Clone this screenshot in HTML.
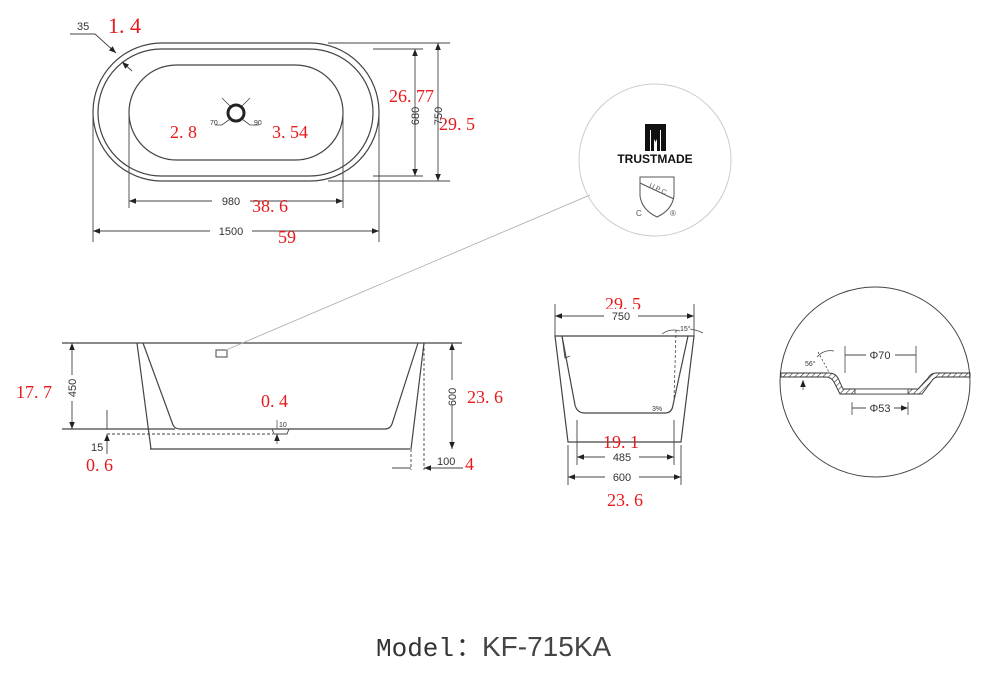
<!DOCTYPE html>
<html><head><meta charset="utf-8"><style>
html,body{margin:0;padding:0;background:#fff;}
svg{display:block;}
.d{font-family:"Liberation Sans",Arial,sans-serif;font-size:11px;fill:#333;}
.s{font-family:"Liberation Sans",Arial,sans-serif;font-size:7px;fill:#333;}
.r{font-family:"Liberation Serif","Noto Serif CJK SC",serif;font-size:18px;fill:#e8191c;white-space:pre;}
</style></head><body>
<svg width="990" height="678" viewBox="0 0 990 678" xmlns="http://www.w3.org/2000/svg">
<defs>
<marker id="a" viewBox="0 0 10 10" refX="10" refY="5" markerWidth="10" markerHeight="7" markerUnits="userSpaceOnUse" orient="auto-start-reverse"><path d="M0,1 L10,5 L0,9z" fill="#222"/></marker>
<pattern id="h" width="4" height="4" patternUnits="userSpaceOnUse" patternTransform="rotate(45)"><line x1="0" y1="0" x2="0" y2="4" stroke="#333" stroke-width="1.2"/></pattern>
</defs>
<g fill="none" stroke="#444" stroke-width="1.2">
<!-- TOP VIEW -->
<rect x="93" y="43" width="286" height="138" rx="69" ry="69"/>
<rect x="98" y="49" width="275" height="127" rx="63.5" ry="63.5"/>
<rect x="129" y="65" width="214" height="95" rx="47.5" ry="47.5"/>
<circle cx="236" cy="113" r="8" stroke="#222" stroke-width="3"/>
<path d="M328,43 H450 M328,181 H450 M373,49 H423 M373,176 H423" stroke-width="0.9"/>
<line x1="415" y1="49" x2="415" y2="176" marker-start="url(#a)" marker-end="url(#a)" stroke-width="0.9"/>
<line x1="438" y1="43" x2="438" y2="181" marker-start="url(#a)" marker-end="url(#a)" stroke-width="0.9"/>
<path d="M129,112 V208 M343,112 V208 M93,112 V242 M379,112 V242" stroke-width="0.9"/>
<line x1="129" y1="201" x2="343" y2="201" marker-start="url(#a)" marker-end="url(#a)" stroke-width="0.9"/>
<line x1="93" y1="231" x2="379" y2="231" marker-start="url(#a)" marker-end="url(#a)" stroke-width="0.9"/>
<path d="M70,34 H95 L116,53" stroke-width="0.9" marker-end="url(#a)"/>
<path d="M132,71 L122,62" stroke-width="0.9" marker-end="url(#a)"/>
<path d="M222,98 L230,106 M250,98 L242,106 M215,125 H222 L230,119 M259,125 H250 L242,119" stroke-width="0.8"/>
<!-- SIDE VIEW -->
<path d="M62,343 H462 M62,429 H175 M150,449 H410"/>
<path d="M137,343 L151,449 M424,343 L411,449"/>
<path d="M143,343 L173,425 Q175,429 180,429 H385 Q390,429 392,424 L418,343"/>
<path d="M107,434 H273 M424,343 V470 M411,449 V470" stroke-dasharray="3,2" stroke-width="0.9"/>
<path d="M272,429 L274,434 H287 L289,429" stroke-width="0.9"/>
<rect x="216" y="350" width="11" height="7" stroke-width="1"/>
<line x1="226" y1="350" x2="590" y2="195" stroke="#aaa" stroke-width="0.8"/>
<line x1="72" y1="343" x2="72" y2="429" marker-start="url(#a)" marker-end="url(#a)" stroke-width="0.9"/>
<line x1="452" y1="343" x2="452" y2="449" marker-start="url(#a)" marker-end="url(#a)" stroke-width="0.9"/>
<path d="M107,410 V429 M107,454 V434" marker-end="url(#a)" stroke-width="0.9"/>
<path d="M277,420 V429 M277,444 V434" marker-end="url(#a)" stroke-width="0.7"/>
<path d="M392,468 H411 M463,468 H424" marker-end="url(#a)" stroke-width="0.9"/>
<!-- END VIEW -->
<path d="M555,336 H694 L681,442 H568 Z"/>
<path d="M562,336 L575,405 Q577,413 585,413 H665 Q672,413 673,405 L688,336"/>
<path d="M562,336 L565,358 L570,356" stroke-width="0.9"/>
<path d="M676,330 L674,400" stroke-dasharray="3,2" stroke-width="0.8"/>
<path d="M662,334 Q670,328 680,331 M690,329 Q697,330 703,333" stroke-width="0.7"/>
<path d="M555,304 V336 M694,304 V336 M577,420 V465 M674,420 V465 M568,445 V485 M681,445 V485" stroke-width="0.9"/>
<line x1="555" y1="316" x2="694" y2="316" marker-start="url(#a)" marker-end="url(#a)" stroke-width="0.9"/>
<line x1="577" y1="457" x2="674" y2="457" marker-start="url(#a)" marker-end="url(#a)" stroke-width="0.9"/>
<line x1="568" y1="477" x2="681" y2="477" marker-start="url(#a)" marker-end="url(#a)" stroke-width="0.9"/>
<!-- DETAIL CIRCLE -->
<circle cx="875" cy="382" r="95" stroke-width="1"/>
<path d="M781,373 H829 Q835,373 838,378 L843,389 H918 L928,378 Q931,373 936,373 H970 V377 H938 Q934,377 931,382 L922,394 H840 L834,382 Q831,377 826,377 H781 Z" fill="url(#h)" stroke="#333" stroke-width="0.9"/>
<path d="M855,389 H908 V394 H855 Z" fill="#fff" stroke="#333" stroke-width="0.8"/>
<path d="M845,346 V373 M916,346 V373 M852,402 V415 M908,402 V415" stroke-width="0.8"/>
<path d="M866,355 H845 M895,355 H916 M866,408 H852 M894,408 H908" marker-end="url(#a)" stroke-width="0.9"/>
<path d="M818,352 L829,372" stroke-dasharray="2,2" stroke-width="0.8"/>
<path d="M817,357 Q824,349 834,351" stroke-width="0.7"/>
<path d="M803,390 V380" marker-end="url(#a)" stroke-width="0.7"/>
<!-- LOGO CIRCLE -->
<circle cx="655" cy="160" r="76" stroke="#ccc" stroke-width="1"/>
</g>
<!-- logo -->
<g fill="#111">
<rect x="645" y="124" width="21" height="6"/>
<rect x="645" y="130" width="5" height="21"/><rect x="661" y="130" width="5" height="21"/>
<path d="M651,130 H660 V151 H657 V139 L655.5,142 L654,139 V151 H651 Z"/>
</g>
<text x="655" y="163" text-anchor="middle" font-family="Liberation Sans,Arial,sans-serif" font-weight="bold" font-size="12" fill="#111">TRUSTMADE</text>
<path d="M640,177 H674 V196 Q672,210 657,217 Q642,210 640,196 Z M640,183 L674,199" fill="none" stroke="#555" stroke-width="1"/>
<text x="657" y="191" text-anchor="middle" font-family="Liberation Sans,Arial,sans-serif" font-size="7" fill="#555" transform="rotate(25 657 191)">U P C</text>
<text x="636" y="216" font-family="Liberation Sans,Arial,sans-serif" font-size="8" fill="#555">C</text>
<text x="670" y="216" font-family="Liberation Sans,Arial,sans-serif" font-size="8" fill="#555">®</text>
<!-- labels -->
<text class="d" x="77" y="30">35</text>
<text class="r" x="108" y="33" style="font-size:22px">1. 4</text>
<text class="s" x="210" y="125">70</text>
<text class="s" x="254" y="125">90</text>
<text class="r" x="170" y="138">2. 8</text>
<text class="r" x="272" y="138">3. 54</text>
<text class="r" x="389" y="102">26. 77</text>
<text class="r" x="439" y="130">29. 5</text>
<text class="d" transform="translate(419,116) rotate(-90)" text-anchor="middle">680</text>
<text class="d" transform="translate(442,116) rotate(-90)" text-anchor="middle">750</text>
<rect x="212" y="194" width="38" height="14" fill="#fff"/>
<text class="d" x="231" y="205" text-anchor="middle">980</text>
<text class="r" x="252" y="212">38. 6</text>
<rect x="210" y="224" width="42" height="14" fill="#fff"/>
<text class="d" x="231" y="235" text-anchor="middle">1500</text>
<text class="r" x="278" y="243">59</text>
<text class="r" x="16" y="398">17. 7</text>
<rect x="66" y="375" width="12" height="26" fill="#fff"/>
<text class="d" transform="translate(76,388) rotate(-90)" text-anchor="middle">450</text>
<rect x="446" y="380" width="12" height="26" fill="#fff"/>
<text class="d" transform="translate(456,397) rotate(-90)" text-anchor="middle">600</text>
<text class="r" x="467" y="403">23. 6</text>
<text class="r" x="261" y="407">0. 4</text>
<text class="s" x="279" y="427">10</text>
<text class="d" x="91" y="451">15</text>
<text class="r" x="86" y="471">0. 6</text>
<text class="d" x="437" y="465">100</text>
<text class="r" x="465" y="470">4</text>
<text class="r" x="605" y="310">29. 5</text>
<rect x="604" y="309" width="34" height="12" fill="#fff"/>
<text class="d" x="621" y="320" text-anchor="middle">750</text>
<text class="s" x="652" y="411">3%</text>
<text class="s" x="680" y="331">15°</text>
<text class="r" x="603" y="448">19. 1</text>
<rect x="605" y="451" width="34" height="12" fill="#fff"/>
<text class="d" x="622" y="461" text-anchor="middle">485</text>
<rect x="605" y="471" width="34" height="12" fill="#fff"/>
<text class="d" x="622" y="481" text-anchor="middle">600</text>
<text class="r" x="607" y="506">23. 6</text>
<text class="s" x="805" y="366">56°</text>
<text class="d" x="880" y="359" text-anchor="middle">Φ70</text>
<text class="d" x="880" y="412" text-anchor="middle">Φ53</text>
<text x="376" y="656" font-family="Liberation Mono,monospace" font-size="26" fill="#333">Model</text>
<text x="456" y="656" font-family="Liberation Sans,'Noto Sans CJK SC',sans-serif" font-size="26" fill="#333">：</text>
<text x="482" y="656" font-family="Liberation Sans,Arial,sans-serif" font-size="28" fill="#444">KF-715KA</text>
</svg>
</body></html>
